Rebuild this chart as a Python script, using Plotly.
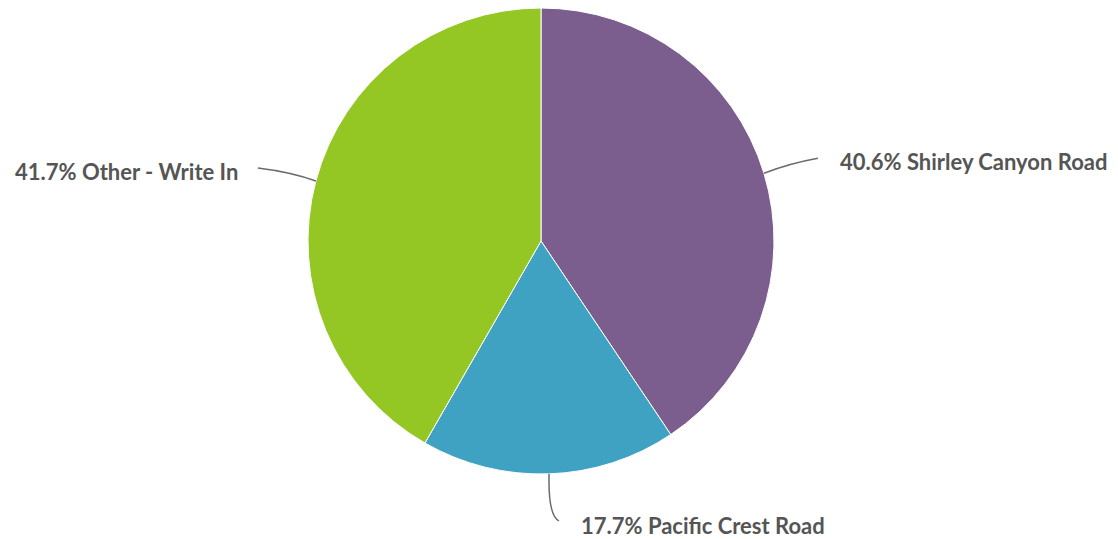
import math
import plotly.graph_objects as go

labels = ["Shirley Canyon Road", "Pacific Crest Road", "Other - Write In"]
values = [40.6, 17.7, 41.7]
colors = ["#7b5e8d", "#3fa2c2", "#94c624"]

OFF = 8  # page body margin
W, H = 1118 - OFF, 539 - OFF
CX, CY, R = 541 - OFF, 241 - OFF, 233  # pixel geometry of the pie (figure coords)

fig = go.Figure(go.Pie(
    labels=labels, values=values, sort=False, direction="clockwise", rotation=0,
    marker=dict(colors=colors, line=dict(color="white", width=1)),
    textinfo="none", hoverinfo="label+percent", showlegend=False,
    domain=dict(x=[(CX - R) / W, (CX + R) / W], y=[(H - CY - R) / H, (H - CY + R) / H]),
))

def px(x):
    return x / W

def py(y):
    return (H - y) / H

# label placement styles per slice: (ctrl offset, end offset, text gap, anchor, text nudge)
styles = [
    ((26, -10), (54, -15), 20, "left", (0, 3)),
    ((-1, 42), (10, 47), 20, "left", (0, 5)),
    ((-25, -9), (-58, -13), -18, "right", (0, 4)),
]

total = sum(values)
cum = 0
shapes, annotations = [], []
for lab, v, st in zip(labels, values, styles):
    mid = (cum + v / 2) / total * 2 * math.pi
    cum += v
    ex = CX + R * math.sin(mid)
    ey = CY - R * math.cos(mid)
    (cdx, cdy), (edx, edy), gap, anchor, (tdx, tdy) = st
    cx_, cy_ = ex + cdx, ey + cdy
    lx, ly = ex + edx, ey + edy
    shapes.append(dict(
        type="path", xref="paper", yref="paper",
        path=f"M {px(ex)},{py(ey)} Q {px(cx_)},{py(cy_)} {px(lx)},{py(ly)}",
        line=dict(color="#6a6a6a", width=1.5),
    ))
    pct = v / total * 100
    annotations.append(dict(
        x=px(lx + gap + tdx), y=py(ly + tdy), xref="paper", yref="paper",
        text=f"{pct:.1f}% {lab}", showarrow=False, xanchor=anchor, yanchor="middle",
        font=dict(family="Lato", size=22, color="#555555", weight="bold"),
    ))

fig.update_layout(
    width=W, height=H, margin=dict(l=0, r=0, t=0, b=0),
    paper_bgcolor="white", plot_bgcolor="white",
    shapes=shapes, annotations=annotations,
)
fig.write_html("out.html")
